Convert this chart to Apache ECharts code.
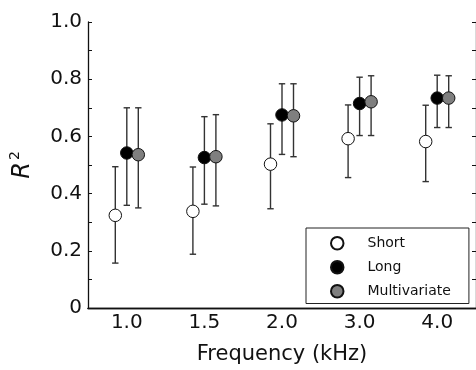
<!DOCTYPE html>
<html>
<head>
<meta charset="utf-8">
<script src="https://cdn.jsdelivr.net/npm/echarts@6/dist/echarts.min.js"></script>
<style>
  html, body { margin: 0; padding: 0; background: #fff; }
  #main { width: 476px; height: 370px; }
</style>
</head>
<body>
<div id="main"></div>
<script>
// frequency categories (kHz)
const categories = ['1.0', '1.5', '2.0', '3.0', '4.0'];
const yTickLabels = ['0', '0.2', '0.4', '0.6', '0.8', '1.0'];

// R^2 means and error bar bounds
const shortMean = [0.324, 0.338, 0.503, 0.592, 0.582];
const shortLow = [0.157, 0.188, 0.347, 0.456, 0.442];
const shortHigh = [0.494, 0.493, 0.644, 0.710, 0.709];

const longMean = [0.542, 0.526, 0.675, 0.715, 0.734];
const longLow = [0.359, 0.363, 0.537, 0.603, 0.631];
const longHigh = [0.700, 0.669, 0.784, 0.807, 0.814];

const multiMean = [0.536, 0.529, 0.672, 0.721, 0.734];
const multiLow = [0.350, 0.357, 0.529, 0.603, 0.631];
const multiHigh = [0.700, 0.676, 0.784, 0.812, 0.812];

const FONT = 'DejaVu Sans';
const AXIS = '#111';
const BAR = '#333';

// error bar series, shifted sideways by pixel offset
function errorBars(name, low, high, dx) {
  return {
    type: 'custom',
    name: name + ' err',
    z: 1,
    silent: true,
    data: low.map((l, i) => [i, l, high[i]]),
    encode: { x: 0, y: [1, 2] },
    renderItem: (params, api) => {
      const lo = api.coord([api.value(0), api.value(1)]);
      const hi = api.coord([api.value(0), api.value(2)]);
      const x = lo[0] + dx;
      const w = 3.2;
      const style = { stroke: BAR, lineWidth: 1.4 };
      return {
        type: 'group',
        children: [
          { type: 'line', shape: { x1: x, y1: lo[1], x2: x, y2: hi[1] }, style },
          { type: 'line', shape: { x1: x - w, y1: lo[1], x2: x + w, y2: lo[1] }, style },
          { type: 'line', shape: { x1: x - w, y1: hi[1], x2: x + w, y2: hi[1] }, style }
        ]
      };
    }
  };
}

function points(name, mean, fill, dx) {
  return {
    type: 'scatter',
    name: name,
    z: 3,
    symbol: 'circle',
    symbolSize: 12.5,
    symbolOffset: [dx, 0],
    itemStyle: { color: fill, borderColor: '#111', borderWidth: 1, opacity: 1 },
    data: mean.map((m, i) => [i, m])
  };
}

const chart = echarts.init(document.getElementById('main'));
chart.setOption({
  animation: false,
  backgroundColor: '#fff',
  textStyle: { fontFamily: FONT },
  grid: { left: 88, top: 22, width: 389, height: 289 },
  legend: {
    orient: 'vertical',
    left: 306,
    top: 228,
    data: ['Short', 'Long', 'Multivariate'],
    icon: 'circle',
    itemWidth: 12.5,
    itemHeight: 12.5,
    itemGap: 9.5,
    padding: [8, 18, 5, 24],
    borderColor: '#222',
    borderWidth: 1,
    borderRadius: 0,
    backgroundColor: '#fff',
    selectedMode: false,
    textStyle: { fontFamily: FONT, fontSize: 14, color: '#111', padding: [0, 0, 0, 19] }
  },
  xAxis: [{
    type: 'category',
    data: categories,
    position: 'bottom',
    name: 'Frequency (kHz)',
    nameLocation: 'middle',
    nameGap: 36,
    nameTextStyle: { fontFamily: FONT, fontSize: 21, color: '#111' },
    axisLine: { lineStyle: { color: AXIS, width: 1.3 } },
    axisTick: { inside: true, alignWithLabel: true, length: 4, lineStyle: { color: AXIS } },
    axisLabel: { margin: 5, fontFamily: FONT, fontSize: 20, color: '#111' },
    splitLine: { show: false }
  }, {
    type: 'category',
    data: categories,
    position: 'top',
    axisLine: { lineStyle: { color: AXIS, width: 1.3 } },
    axisTick: { inside: true, alignWithLabel: true, length: 4, lineStyle: { color: AXIS } },
    axisLabel: { show: false },
    splitLine: { show: false }
  }],
  yAxis: [{
    type: 'value',
    min: 0,
    max: 1,
    interval: 0.1,
    name: '{r|R}{s|2}',
    nameLocation: 'middle',
    nameRotate: 90,
    nameGap: 50,
    nameTextStyle: {
      rich: {
        r: { fontFamily: FONT, fontStyle: 'italic', fontSize: 24, color: '#111', lineHeight: 30 },
        s: { fontFamily: FONT, fontSize: 14, color: '#111', verticalAlign: 'top', padding: [0, 0, 0, 2] }
      }
    },
    axisLine: { show: true, lineStyle: { color: AXIS, width: 1.3 } },
    axisTick: { show: true, inside: true, length: 4, lineStyle: { color: AXIS } },
    axisLabel: {
      margin: 6,
      fontFamily: FONT,
      fontSize: 20,
      color: '#111',
      formatter: v => {
        const k = Math.round(v * 10);
        return k % 2 === 0 ? yTickLabels[k / 2] : '';
      }
    },
    splitLine: { show: false }
  }, {
    type: 'value',
    min: 0,
    max: 1,
    interval: 0.1,
    position: 'right',
    axisLine: { show: true, lineStyle: { color: AXIS, width: 1.3 } },
    axisTick: { show: true, inside: true, length: 4, lineStyle: { color: AXIS } },
    axisLabel: { show: false },
    splitLine: { show: false }
  }],
  series: [
    errorBars('Short', shortLow, shortHigh, -11.5),
    errorBars('Long', longLow, longHigh, 0),
    errorBars('Multivariate', multiLow, multiHigh, 11.5),
    points('Short', shortMean, '#fff', -11.5),
    points('Long', longMean, '#000', 0),
    points('Multivariate', multiMean, '#7f7f7f', 11.5)
  ]
});
</script>
</body>
</html>
